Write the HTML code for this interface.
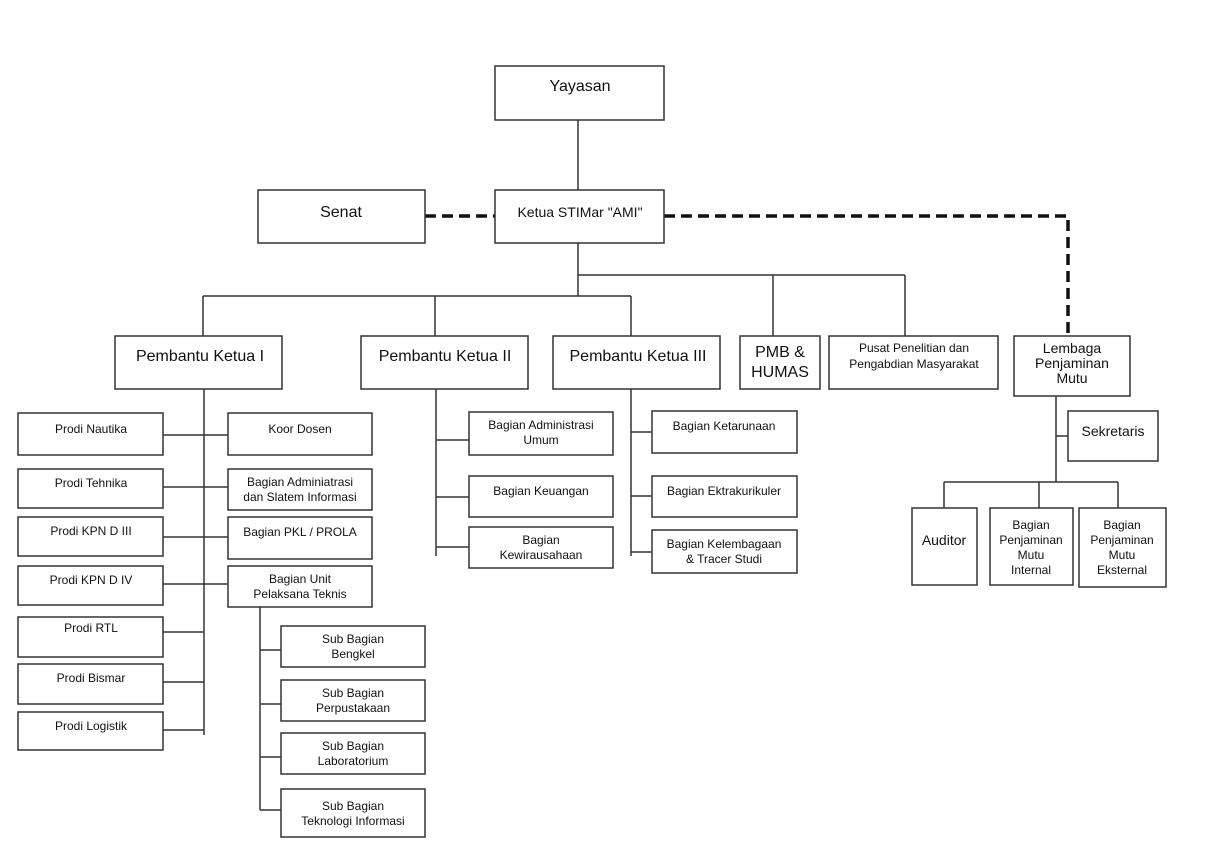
<!DOCTYPE html>
<html><head><meta charset="utf-8"><style>
html,body{margin:0;padding:0;background:#fff;}
svg{display:block;}
text{font-family:"Liberation Sans",sans-serif;fill:#111;text-anchor:middle;}
.b{fill:#fff;stroke:#333;stroke-width:1.5;}
.l{stroke:#333;stroke-width:1.5;fill:none;}
.s{font-size:12px;}
.m{font-size:14px;}
.g{font-size:16px;}
</style></head><body>
<svg width="1216" height="848" viewBox="0 0 1216 848">
<!-- lines -->
<path class="l" d="M578 120V190M578 243V296M578 275H905M773 275V336M905 275V336M203 296H631M203 296V336M435 296V336M631 296V336"/>
<path d="M425 216H495M664 216H1068V333" stroke="#111" stroke-width="3.5" fill="none" stroke-dasharray="11,6"/>
<path class="l" d="M204 389V735M163 435H228M163 487H228M163 537H228M163 584H228M163 632H204M163 682H204M163 730H204"/>
<path class="l" d="M260 607V810M260 650H281M260 704H281M260 757H281M260 810H281"/>
<path class="l" d="M436 389V556M436 440H469M436 497H469M436 547H469"/>
<path class="l" d="M631 389V556M631 432H652M631 496H652M631 552H652"/>
<path class="l" d="M1056 396V482M1056 436H1068M944 482H1118M944 482V508M1039 482V508M1118 482V508"/>
<!-- boxes -->
<rect class="b" x="495" y="66" width="169" height="54"/><text class="g" x="580" y="91">Yayasan</text>
<rect class="b" x="258" y="190" width="167" height="53"/><text class="g" x="341" y="217">Senat</text>
<rect class="b" x="495" y="190" width="169" height="53"/><text class="m" x="580" y="217">Ketua STIMar "AMI"</text>
<rect class="b" x="115" y="336" width="167" height="53"/><text class="g" x="200" y="361">Pembantu Ketua I</text>
<rect class="b" x="361" y="336" width="167" height="53"/><text class="g" x="445" y="361">Pembantu Ketua II</text>
<rect class="b" x="553" y="336" width="167" height="53"/><text class="g" x="638" y="361">Pembantu Ketua III</text>
<rect class="b" x="740" y="336" width="80" height="53"/><text class="g" x="780" y="357">PMB &amp;</text><text class="g" x="780" y="377">HUMAS</text>
<rect class="b" x="829" y="336" width="169" height="53"/><text class="s" x="914" y="352">Pusat Penelitian dan</text><text class="s" x="914" y="368">Pengabdian Masyarakat</text>
<rect class="b" x="1014" y="336" width="116" height="60"/><text class="m" x="1072" y="353">Lembaga</text><text class="m" x="1072" y="368">Penjaminan</text><text class="m" x="1072" y="383">Mutu</text>
<rect class="b" x="18" y="413" width="145" height="42"/><text class="s" x="91" y="433">Prodi Nautika</text>
<rect class="b" x="18" y="469" width="145" height="39"/><text class="s" x="91" y="487">Prodi Tehnika</text>
<rect class="b" x="18" y="517" width="145" height="39"/><text class="s" x="91" y="535">Prodi KPN D III</text>
<rect class="b" x="18" y="566" width="145" height="39"/><text class="s" x="91" y="584">Prodi KPN D IV</text>
<rect class="b" x="18" y="617" width="145" height="40"/><text class="s" x="91" y="632">Prodi RTL</text>
<rect class="b" x="18" y="664" width="145" height="40"/><text class="s" x="91" y="682">Prodi Bismar</text>
<rect class="b" x="18" y="712" width="145" height="38"/><text class="s" x="91" y="730">Prodi Logistik</text>
<rect class="b" x="228" y="413" width="144" height="42"/><text class="s" x="300" y="433">Koor Dosen</text>
<rect class="b" x="228" y="469" width="144" height="41"/><text class="s" x="300" y="486">Bagian Adminiatrasi</text><text class="s" x="300" y="501">dan Slatem Informasi</text>
<rect class="b" x="228" y="517" width="144" height="42"/><text class="s" x="300" y="536">Bagian PKL / PROLA</text>
<rect class="b" x="228" y="566" width="144" height="41"/><text class="s" x="300" y="583">Bagian  Unit</text><text class="s" x="300" y="598">Pelaksana Teknis</text>
<rect class="b" x="281" y="626" width="144" height="41"/><text class="s" x="353" y="643">Sub Bagian</text><text class="s" x="353" y="658">Bengkel</text>
<rect class="b" x="281" y="680" width="144" height="41"/><text class="s" x="353" y="697">Sub Bagian</text><text class="s" x="353" y="712">Perpustakaan</text>
<rect class="b" x="281" y="733" width="144" height="41"/><text class="s" x="353" y="750">Sub Bagian</text><text class="s" x="353" y="765">Laboratorium</text>
<rect class="b" x="281" y="789" width="144" height="48"/><text class="s" x="353" y="810">Sub Bagian</text><text class="s" x="353" y="825">Teknologi Informasi</text>
<rect class="b" x="469" y="412" width="144" height="43"/><text class="s" x="541" y="429">Bagian Administrasi</text><text class="s" x="541" y="444">Umum</text>
<rect class="b" x="469" y="476" width="144" height="41"/><text class="s" x="541" y="495">Bagian Keuangan</text>
<rect class="b" x="469" y="527" width="144" height="41"/><text class="s" x="541" y="544">Bagian</text><text class="s" x="541" y="559">Kewirausahaan</text>
<rect class="b" x="652" y="411" width="145" height="42"/><text class="s" x="724" y="430">Bagian Ketarunaan</text>
<rect class="b" x="652" y="476" width="145" height="41"/><text class="s" x="724" y="495">Bagian Ektrakurikuler</text>
<rect class="b" x="652" y="530" width="145" height="43"/><text class="s" x="724" y="548">Bagian Kelembagaan</text><text class="s" x="724" y="563">&amp; Tracer Studi</text>
<rect class="b" x="1068" y="411" width="90" height="50"/><text class="m" x="1113" y="436">Sekretaris</text>
<rect class="b" x="912" y="508" width="65" height="77"/><text class="m" x="944" y="545">Auditor</text>
<rect class="b" x="990" y="508" width="83" height="77"/><text class="s" x="1031" y="529">Bagian</text><text class="s" x="1031" y="544">Penjaminan</text><text class="s" x="1031" y="559">Mutu</text><text class="s" x="1031" y="574">Internal</text>
<rect class="b" x="1079" y="508" width="87" height="79"/><text class="s" x="1122" y="529">Bagian</text><text class="s" x="1122" y="544">Penjaminan</text><text class="s" x="1122" y="559">Mutu</text><text class="s" x="1122" y="574">Eksternal</text>
</svg>
</body></html>
